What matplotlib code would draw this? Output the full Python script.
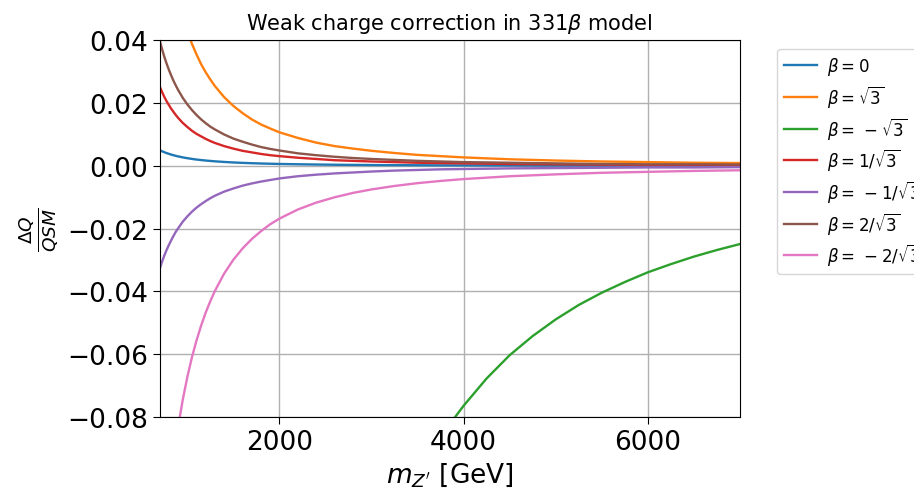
import numpy as np
import matplotlib
matplotlib.use("Agg")
import matplotlib.pyplot as plt

# Z' mass grid (GeV) and correction values
m_zp = [700, 725, 750, 775, 800, 825, 850, 875, 900, 950, 1000, 1050, 1100, 1150, 1200,
        1250, 1300, 1400, 1500, 1600, 1700, 1800, 1900, 2000, 2200, 2400, 2600, 2800,
        3000, 3250, 3500, 3750, 4000, 4500, 5000, 5500, 6000, 6500, 7000]

dq_b0 = [0.00500, 0.00466, 0.00436, 0.00408, 0.00383, 0.00360, 0.00339, 0.00320, 0.00302,
         0.00271, 0.00245, 0.00222, 0.00202, 0.00185, 0.00170, 0.00157, 0.00145, 0.00125,
         0.00109, 0.00096, 0.00085, 0.00076, 0.00068, 0.00061, 0.00051, 0.00043, 0.00036,
         0.00031, 0.00027, 0.00023, 0.00020, 0.00017, 0.00015, 0.00012, 0.00010, 0.00008,
         0.00007, 0.00006, 0.00005]
dq_bsqrt3 = [0.0876, 0.0816, 0.0763, 0.0714, 0.0670, 0.0630, 0.0594, 0.0560, 0.0530,
             0.0475, 0.0429, 0.0389, 0.0355, 0.0324, 0.0298, 0.0275, 0.0254, 0.0219,
             0.0191, 0.0168, 0.0148, 0.0132, 0.0119, 0.0107, 0.0089, 0.0074, 0.0063,
             0.0055, 0.0048, 0.0041, 0.0035, 0.0031, 0.0027, 0.0021, 0.0017, 0.0014,
             0.0012, 0.0010, 0.0009]
dq_b1sqrt3 = [0.0253, 0.0236, 0.0220, 0.0206, 0.0194, 0.0182, 0.0172, 0.0162, 0.0153,
              0.0137, 0.0124, 0.0112, 0.0102, 0.0094, 0.0086, 0.0079, 0.0073, 0.0063,
              0.0055, 0.0048, 0.0043, 0.0038, 0.0034, 0.0031, 0.0026, 0.0022, 0.0018,
              0.0016, 0.0014, 0.0012, 0.0010, 0.0009, 0.0008, 0.0006, 0.0005, 0.0004,
              0.0003, 0.0003, 0.0003]
dq_bm1sqrt3 = [-0.0329, -0.0306, -0.0286, -0.0268, -0.0252, -0.0237, -0.0223, -0.0210, -0.0199,
               -0.0178, -0.0161, -0.0146, -0.0133, -0.0122, -0.0112, -0.0103, -0.0095, -0.0082,
               -0.0072, -0.0063, -0.0056, -0.0050, -0.0045, -0.0040, -0.0033, -0.0028, -0.0024,
               -0.0021, -0.0018, -0.0015, -0.0013, -0.0011, -0.0010, -0.0008, -0.0007, -0.0006,
               -0.0005, -0.0005, -0.0004]
dq_b2sqrt3 = [0.0400, 0.0373, 0.0348, 0.0326, 0.0306, 0.0288, 0.0271, 0.0256, 0.0242,
              0.0217, 0.0196, 0.0178, 0.0162, 0.0148, 0.0136, 0.0125, 0.0116, 0.0100,
              0.0087, 0.0077, 0.0068, 0.0060, 0.0054, 0.0049, 0.0040, 0.0034, 0.0029,
              0.0025, 0.0022, 0.0019, 0.0016, 0.0014, 0.0012, 0.0010, 0.0008, 0.0006,
              0.0005, 0.0005, 0.0004]
dq_bm2sqrt3 = [-0.1373, -0.1280, -0.1196, -0.1120, -0.1052, -0.0989, -0.0931, -0.0879, -0.0831,
               -0.0746, -0.0673, -0.0610, -0.0556, -0.0509, -0.0467, -0.0431, -0.0398, -0.0343,
               -0.0299, -0.0263, -0.0233, -0.0208, -0.0186, -0.0168, -0.0139, -0.0117, -0.0100,
               -0.0086, -0.0075, -0.0064, -0.0055, -0.0048, -0.0042, -0.0033, -0.0027, -0.0022,
               -0.0019, -0.0016, -0.0014]

# beta = -sqrt(3) only enters the window at high mass
m_zp_green = [3800, 3900, 4000, 4250, 4500, 4750, 5000, 5250, 5500, 5750, 6000, 6250,
              6500, 6750, 7000]
dq_bmsqrt3 = [-0.0846, -0.0803, -0.0764, -0.0677, -0.0603, -0.0542, -0.0489, -0.0443,
              -0.0404, -0.0370, -0.0339, -0.0313, -0.0289, -0.0268, -0.0249]

fig = plt.figure(figsize=(9.14, 4.89), dpi=100)
ax = fig.add_axes([0.1747, 0.1452, 0.6349, 0.7703])

ax.plot(m_zp, dq_b0, label=r'$\beta = 0$', lw=1.7)
ax.plot(m_zp, dq_bsqrt3, label=r'$\beta = \sqrt{3}$', lw=1.7)
ax.plot(m_zp_green, dq_bmsqrt3, label=r'$\beta =\,-\sqrt{3}$', lw=1.7)
ax.plot(m_zp, dq_b1sqrt3, label=r'$\beta = 1/\sqrt{3}$', lw=1.7)
ax.plot(m_zp, dq_bm1sqrt3, label=r'$\beta =\,-1/\sqrt{3}$', lw=1.7)
ax.plot(m_zp, dq_b2sqrt3, label=r'$\beta = 2/\sqrt{3}$', lw=1.7)
ax.plot(m_zp, dq_bm2sqrt3, label=r'$\beta =\,-2/\sqrt{3}$', lw=1.7)

ax.set_xlim(700, 7000)
ax.set_ylim(-0.08, 0.04)
ax.set_xticks([2000, 4000, 6000])
ax.set_yticks([-0.08, -0.06, -0.04, -0.02, 0.00, 0.02, 0.04])
ax.tick_params(labelsize=19, length=5)
ax.grid(True, color='#b0b0b0', lw=1.0)

ax.set_xlabel(r"$m_{Z'}$ [GeV]", fontsize=19)
ax.set_ylabel(r'$\frac{\Delta Q}{QSM}$', fontsize=19)
ax.set_title(r'Weak charge correction in 331$\beta$ model', fontsize=15, pad=8)
ax.legend(loc='upper left', bbox_to_anchor=(1.05, 1), fontsize=12, labelspacing=0.34,
          handletextpad=0.6)

fig.savefig('out.png', dpi=100)
